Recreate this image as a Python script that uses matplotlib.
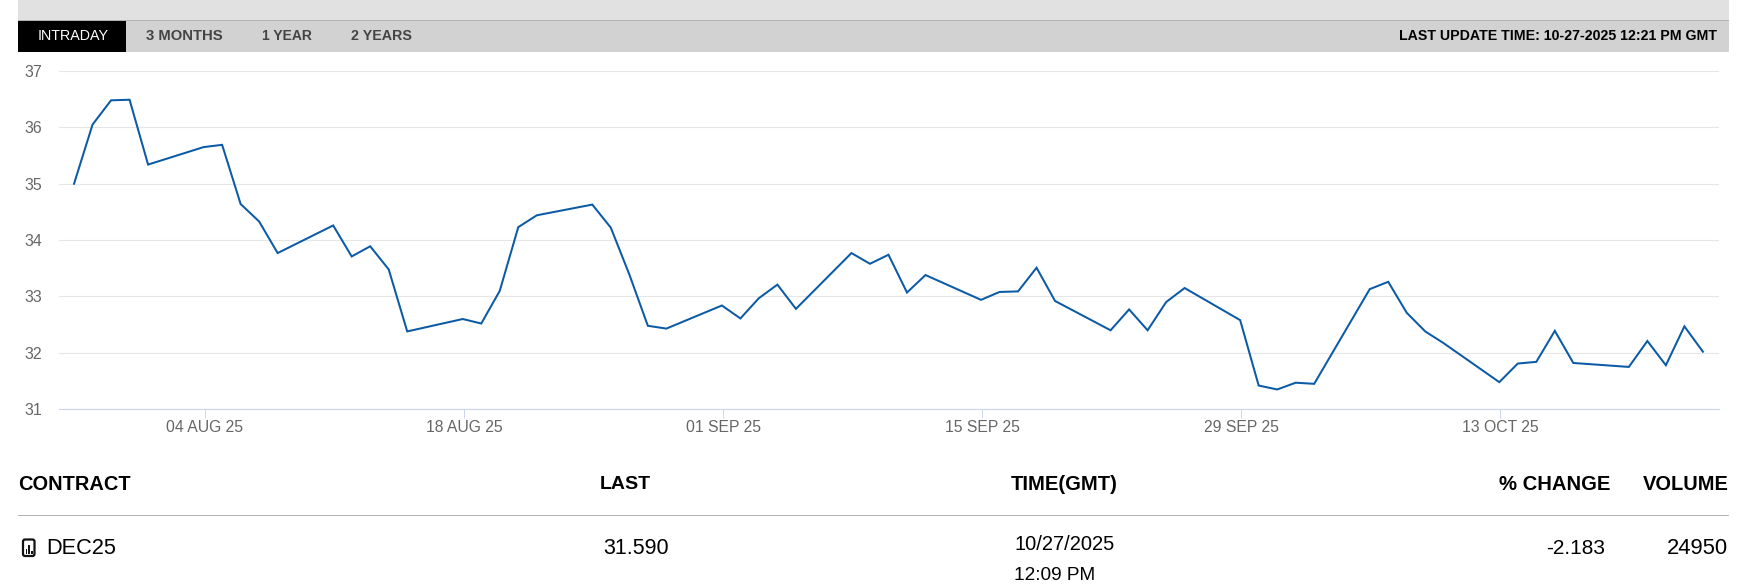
import datetime as dt
import matplotlib
matplotlib.use("Agg")
import matplotlib.pyplot as plt
import matplotlib.dates as mdates
from matplotlib.patches import Rectangle, FancyBboxPatch

plt.rcParams['font.family'] = ['Liberation Sans', 'DejaVu Sans']

# settings
W, H = 1764, 585
LINE_COLOR = '#0b5aa5'

# daily settlement, weekdays only
dates = ['2025-07-28', '2025-07-29', '2025-07-30', '2025-07-31', '2025-08-01',
         '2025-08-04', '2025-08-05', '2025-08-06', '2025-08-07', '2025-08-08',
         '2025-08-11', '2025-08-12', '2025-08-13', '2025-08-14', '2025-08-15',
         '2025-08-18', '2025-08-19', '2025-08-20', '2025-08-21', '2025-08-22',
         '2025-08-25', '2025-08-26', '2025-08-27', '2025-08-28', '2025-08-29',
         '2025-09-01', '2025-09-02', '2025-09-03', '2025-09-04', '2025-09-05',
         '2025-09-08', '2025-09-09', '2025-09-10', '2025-09-11', '2025-09-12',
         '2025-09-15', '2025-09-16', '2025-09-17', '2025-09-18', '2025-09-19',
         '2025-09-22', '2025-09-23', '2025-09-24', '2025-09-25', '2025-09-26',
         '2025-09-29', '2025-09-30', '2025-10-01', '2025-10-02', '2025-10-03',
         '2025-10-06', '2025-10-07', '2025-10-08', '2025-10-09', '2025-10-10',
         '2025-10-13', '2025-10-14', '2025-10-15', '2025-10-16', '2025-10-17',
         '2025-10-20', '2025-10-21', '2025-10-22', '2025-10-23', '2025-10-24']
prices = [35.00, 36.05, 36.48, 36.49, 35.34,
          35.65, 35.69, 34.64, 34.33, 33.77,
          34.26, 33.71, 33.89, 33.48, 32.38,
          32.60, 32.52, 33.10, 34.23, 34.44,
          34.63, 34.22, 33.39, 32.48, 32.43,
          32.84, 32.61, 32.97, 33.21, 32.78,
          33.77, 33.58, 33.74, 33.07, 33.38,
          32.94, 33.08, 33.09, 33.51, 32.92,
          32.40, 32.77, 32.40, 32.90, 33.15,
          32.58, 31.42, 31.35, 31.47, 31.45,
          33.13, 33.26, 32.71, 32.38, 32.17,
          31.48, 31.81, 31.84, 32.39, 31.82,
          31.75, 32.21, 31.78, 32.47, 32.02]
y_ticks = [31, 32, 33, 34, 35, 36, 37]
x_ticks = ['2025-08-04', '2025-08-18', '2025-09-01', '2025-09-15', '2025-09-29', '2025-10-13']

tabs = ['INTRADAY', '3 MONTHS', '1 YEAR', '2 YEARS']
update_text = 'LAST UPDATE TIME: 10-27-2025 12:21 PM GMT'
columns = ['CONTRACT', 'LAST', 'TIME(GMT)', '% CHANGE', 'VOLUME']
row = ['DEC25', '31.590', '10/27/2025', '12:09 PM', '-2.183', '24950']

fig = plt.figure(figsize=(W / 100, H / 100), dpi=100)

# page furniture, in pixel coordinates
page = fig.add_axes([0, 0, 1, 1])
page.set_xlim(0, W)
page.set_ylim(H, 0)
page.axis('off')

page.add_patch(Rectangle((18, 0), 1711, 20, color='#e1e1e1', lw=0))
page.add_patch(Rectangle((18, 20), 1711, 32, color='#d2d2d2', lw=0))
page.add_patch(Rectangle((18, 20), 1711, 1, color='#b3b3b3', lw=0))
page.add_patch(Rectangle((18, 21), 108, 31, color='black', lw=0))

page.text(38, 36.5, tabs[0], color='white', fontsize=10.3, va='center')
page.text(146, 36.5, tabs[1], color='#444444', fontsize=10.7, va='center', weight='bold')
page.text(262, 36.5, tabs[2], color='#444444', fontsize=10, va='center', weight='bold')
page.text(351, 36.5, tabs[3], color='#444444', fontsize=10.3, va='center', weight='bold')
page.text(1717, 36.5, update_text, color='black', fontsize=10.2, va='center', ha='right', weight='bold')

# table under the chart
page.text(18, 484.5, columns[0], fontsize=14.4, va='center', weight='bold')
page.text(600, 484.5, columns[1], fontsize=14, va='center', weight='bold')
page.text(1011, 484.5, columns[2], fontsize=14.6, va='center', weight='bold')
page.text(1610, 484.5, columns[3], fontsize=14.6, va='center', ha='right', weight='bold')
page.text(1729, 484.5, columns[4], fontsize=14.4, va='center', ha='right', weight='bold')
page.add_patch(Rectangle((18, 515), 1711, 1, color='#b5b5b5', lw=0))

page.text(46, 548, row[0], fontsize=15.7, va='center')
page.text(603, 548, row[1], fontsize=15.5, va='center')
page.text(1014, 545, row[2], fontsize=14.5, va='center')
page.text(1014, 576, row[3], fontsize=13.7, va='center')
page.text(1605, 548, row[4], fontsize=15, va='center', ha='right')
page.text(1728, 548, row[5], fontsize=15.8, va='center', ha='right')

# little report icon in front of the contract name
page.add_patch(FancyBboxPatch((23, 539.5), 11.5, 16.5, boxstyle='round,pad=0,rounding_size=2',
                              fill=False, ec='#111111', lw=1.6))
page.add_patch(Rectangle((25.5, 549), 1.8, 5, color='#111111', lw=0))
page.add_patch(Rectangle((28.1, 545), 1.8, 9, color='#111111', lw=0))
page.add_patch(Rectangle((30.8, 551), 1.8, 3, color='#111111', lw=0))

# the chart itself
ax = fig.add_axes([58.5 / W, 1 - 409.2 / H, (1719 - 58.5) / W, (409.2 - 71) / H])
ax.patch.set_alpha(0)

xs = [dt.datetime.strptime(d, '%Y-%m-%d') for d in dates]
ax.plot(xs, prices, color=LINE_COLOR, lw=1.45, solid_joinstyle='miter')

ax.set_ylim(31, 37)
ax.set_xlim(mdates.date2num(xs[0]) - 0.84, mdates.date2num(xs[0]) + 88.87)
ax.set_yticks(y_ticks)
# the ticks sit about a pixel right of the day they name
tick_days = [dt.datetime.strptime(d, '%Y-%m-%d') for d in x_ticks]
ax.set_xticks([d + dt.timedelta(hours=1.5) for d in tick_days])
ax.set_xticklabels([d.strftime('%d %b %y').upper() for d in tick_days])

ax.grid(axis='y', color='#e6e6e6', lw=0.8)
ax.set_axisbelow(True)
for s in ['top', 'left', 'right']:
    ax.spines[s].set_visible(False)
ax.spines['bottom'].set_color('#ccd6eb')
ax.spines['bottom'].set_linewidth(0.8)
ax.tick_params(axis='x', length=6.5, width=0.7, color='#ccd6eb', labelcolor='#666666', labelsize=11.3, pad=1)
ax.tick_params(axis='y', length=0, labelcolor='#666666', labelsize=11.4, pad=11.5)

fig.savefig('out.png', dpi=100)
